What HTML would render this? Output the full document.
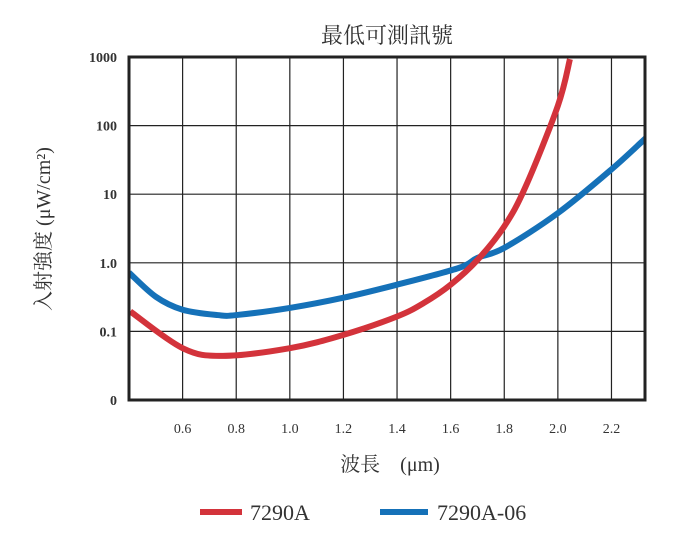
<!DOCTYPE html>
<html><head><meta charset="utf-8"><style>
body{margin:0;background:#fff;}
svg text{font-family:"Liberation Serif","Noto Serif CJK SC",serif;fill:#333;}
</style></head><body>
<svg width="678" height="535">
<text x="387" y="43" font-size="22" text-anchor="middle">最低可測訊號</text>
<g id="grid"></g>
<g id="series"></g>
<rect x="129" y="57" width="516" height="343" fill="none" stroke="#222" stroke-width="3"/>
<g id="labels"></g>
<text transform="translate(50,229) rotate(-90)" font-size="20" text-anchor="middle">入射強度 (μW/cm²)</text>
<text x="390" y="471" font-size="20" text-anchor="middle">波長　(μm)</text>
<line x1="200" y1="512" x2="242" y2="512" stroke="#d3333b" stroke-width="6"/>
<text x="250" y="520" font-size="22">7290A</text>
<line x1="380" y1="512" x2="428" y2="512" stroke="#1571b8" stroke-width="6"/>
<text x="437" y="520" font-size="22">7290A-06</text>
</svg>
<script>
const xTicks=[0.6,0.8,1.0,1.2,1.4,1.6,1.8,2.0,2.2];
const xTickLabels=["0.6","0.8","1.0","1.2","1.4","1.6","1.8","2.0","2.2"];
const yTicks=[1000,100,10,1,0.1,0.01];
const yTickLabels=["1000","100","10","1.0","0.1","0"];
const redX=[0.405,0.6,0.75,1.0,1.2,1.4,1.5,1.6,1.7,1.8,1.88,2.0,2.045];
const redY=[0.195,0.057,0.044,0.057,0.089,0.165,0.26,0.48,1.1,3.4,13,195,930];
const blueX=[0.4,0.5,0.6,0.73,0.8,1.0,1.2,1.4,1.63,1.7,1.8,2.0,2.2,2.33];
const blueY=[0.72,0.32,0.207,0.173,0.173,0.22,0.31,0.48,0.84,1.18,1.65,5.3,23,67];
const L=129,R=645,T=57,B=400;
function xs(v){return L+(v-0.4)*(649-L)/1.94;}
function ys(v){return B-(Math.log10(v)+2)*(B-T)/5;}
const NS="http://www.w3.org/2000/svg";
const grid=document.getElementById('grid'),lab=document.getElementById('labels'),ser=document.getElementById('series');
xTicks.forEach((t,i)=>{
 const l=document.createElementNS(NS,'line');
 
 
 l.setAttribute('x1',xs(t));l.setAttribute('x2',xs(t));l.setAttribute('y1',T);l.setAttribute('y2',B);
 l.setAttribute('stroke','#222');l.setAttribute('stroke-width','1.2');grid.appendChild(l);
 const tx=document.createElementNS(NS,'text');
 
 
 tx.setAttribute('x',xs(t));tx.setAttribute('y',433);tx.setAttribute('font-size','14');tx.setAttribute('text-anchor','middle');
 tx.textContent=xTickLabels[i];lab.appendChild(tx);
});
yTicks.forEach((t,i)=>{
 const l=document.createElementNS(NS,'line');
 
 
 l.setAttribute('x1',L);l.setAttribute('x2',R);l.setAttribute('y1',ys(t));l.setAttribute('y2',ys(t));
 l.setAttribute('stroke','#222');l.setAttribute('stroke-width','1.2');grid.appendChild(l);
 const tx=document.createElementNS(NS,'text');
 
 
 tx.setAttribute('x',117);tx.setAttribute('y',ys(t)+5);tx.setAttribute('font-size','14');tx.setAttribute('text-anchor','end');
 tx.setAttribute('font-weight','bold');
 tx.textContent=yTickLabels[i];lab.appendChild(tx);
});
function path(xa,ya){
 const p=xa.map((x,i)=>[xs(x),ys(ya[i])]);
 let d='M'+p[0][0]+','+p[0][1];
 for(let i=0;i<p.length-1;i++){
  const p0=p[i-1]||p[i],p1=p[i],p2=p[i+1],p3=p[i+2]||p2;
  const c1x=p1[0]+(p2[0]-p0[0])/6,c1y=p1[1]+(p2[1]-p0[1])/6;
  const c2x=p2[0]-(p3[0]-p1[0])/6,c2y=p2[1]-(p3[1]-p1[1])/6;
  d+=' C'+c1x+','+c1y+' '+c2x+','+c2y+' '+p2[0]+','+p2[1];
 }
 return d;
}
const cp=document.createElementNS(NS,'clipPath');cp.setAttribute('id','clip');
const cr=document.createElementNS(NS,'rect');cr.setAttribute('x',L);cr.setAttribute('y',T);cr.setAttribute('width',R-L);cr.setAttribute('height',B-T);
cp.appendChild(cr);ser.appendChild(cp);
[[blueX,blueY,'#1571b8','series-7290a-06'],[redX,redY,'#d3333b','series-7290a']].forEach(s=>{
 const pe=document.createElementNS(NS,'path');
 
 
 pe.setAttribute('d',path(s[0],s[1]));pe.setAttribute('fill','none');pe.setAttribute('stroke',s[2]);
 pe.setAttribute('stroke-width','6');pe.setAttribute('clip-path','url(#clip)');ser.appendChild(pe);
});
</script>
</body></html>
